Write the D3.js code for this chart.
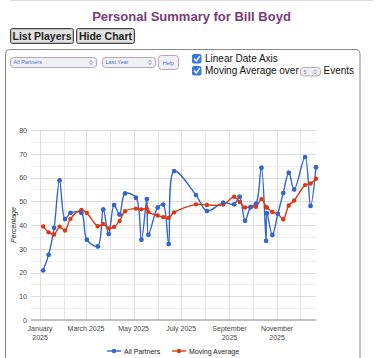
<!DOCTYPE html>
<html><head><meta charset="utf-8">
<script src="https://cdn.jsdelivr.net/npm/d3@7"></script>
<style>
html,body{margin:0;padding:0;background:#fff;}
svg{display:block;font-family:"Liberation Sans",Arial,sans-serif;}
</style></head>
<body>
<svg id="c" width="384" height="358"></svg>
<script>
// ---- data ----
const dates = ["2025-01-05","2025-01-12","2025-01-19","2025-01-26","2025-02-02","2025-02-09","2025-02-23","2025-03-02","2025-03-16","2025-03-23","2025-03-30","2025-04-06","2025-04-13","2025-04-20","2025-05-04","2025-05-11","2025-05-18","2025-05-20","2025-06-01","2025-06-08","2025-06-15","2025-06-22","2025-07-20","2025-08-03","2025-08-24","2025-09-07","2025-09-14","2025-09-21","2025-09-28","2025-10-05","2025-10-12","2025-10-18","2025-10-19","2025-10-26","2025-11-02","2025-11-09","2025-11-16","2025-11-23","2025-12-07","2025-12-14","2025-12-21"];
const allPartners = [20.9,27.5,38.8,58.8,42.5,45.1,45.1,33.8,31.0,46.5,36.2,48.4,44.4,53.3,51.5,33.8,51.0,35.9,47.4,48.6,32.0,62.7,52.6,45.9,49.4,48.7,51.9,41.8,47.5,49.0,64.1,33.4,45.0,35.8,44.7,53.5,62.0,55.0,68.6,48.0,64.3];
const movingAvg = [39.4,36.9,36.0,39.3,37.7,42.6,46.3,45.1,39.5,40.4,38.6,39.2,41.7,45.8,46.9,46.6,46.9,45.5,44.0,43.3,43.0,45.3,48.7,48.4,48.6,51.9,49.7,47.4,47.7,47.7,50.9,47.6,47.3,45.5,44.7,42.4,48.2,50.3,56.8,57.5,59.5];
const seriesNames = ["All Partners","Moving Average"];
const seriesColors = ["#3366cc","#dc3912"];
const yTicks = [0,10,20,30,40,50,60,70,80];
const yMinor = [5,15,25,35,45,55,65,75];
const xMajor = ["2025-01-01","2025-03-01","2025-05-01","2025-07-01","2025-09-01","2025-11-01"];
const xMinor = ["2025-02-01","2025-04-01","2025-06-01","2025-08-01","2025-10-01","2025-12-01"];
const xLabels = [["January","2025"],["March 2025"],["May 2025"],["July 2025"],["September","2025"],["November","2025"]];

const parse = d3.timeParse("%Y-%m-%d");
const svg = d3.select("#c");

// ---- page chrome ----
svg.append("line").attr("x1",10).attr("x2",373).attr("y1",0.5).attr("y2",0.5).attr("stroke","#ddd");
svg.append("text").attr("x",191.5).attr("y",21).attr("text-anchor","middle")
  .attr("font-size",13).attr("font-weight","bold").attr("fill","#7a3a7a").text("Personal Summary for Bill Boyd");

function button(x,w,label){
  svg.append("rect").attr("x",x+0.5).attr("y",28.5).attr("width",w).attr("height",15).attr("rx",2)
    .attr("fill","#e2e2e2").attr("stroke","#444");
  svg.append("rect").attr("x",x+1.5).attr("y",29.5).attr("width",w-2).attr("height",13).attr("rx",1.5)
    .attr("fill","none").attr("stroke","#bbb");
  svg.append("text").attr("x",x+0.5+w/2).attr("y",40).attr("text-anchor","middle")
    .attr("font-size",10.5).attr("font-weight","bold").attr("fill","#222").text(label);
}
button(10,63,"List Players");
button(76,58,"Hide Chart");

// box
svg.append("rect").attr("x",5.5).attr("y",49.5).attr("width",354.5).attr("height",330).attr("rx",4)
  .attr("fill","none").attr("stroke","#888");

function select(x,y,w,h,label,fs){
  svg.append("rect").attr("x",x+0.5).attr("y",y+0.5).attr("width",w).attr("height",h).attr("rx",3)
    .attr("fill","#f0eff2").attr("stroke","#b9a3bd");
  svg.append("text").attr("x",x+3.5).attr("y",y+h/2+2.3).attr("font-size",fs).attr("fill","#4a74d8").text(label);
  const cx=x+w-5, cy=y+h/2+0.5;
  svg.append("path").attr("d",`M${cx-1.5},${cy-0.6}L${cx},${cy-2}L${cx+1.5},${cy-0.6}M${cx-1.5},${cy+0.6}L${cx},${cy+2}L${cx+1.5},${cy+0.6}`)
    .attr("fill","none").attr("stroke","#5577cc").attr("stroke-width",0.7);
}
select(10,57,86,10,"All Partners",5.5);
select(102,57,53,10,"Last Year",5.5);
svg.append("rect").attr("x",158.5).attr("y",55.5).attr("width",20).attr("height",14).attr("rx",3)
  .attr("fill","#f0eff2").attr("stroke","#b9a3bd");
svg.append("text").attr("x",168.5).attr("y",64.5).attr("text-anchor","middle").attr("font-size",5.5).attr("fill","#4a74d8").text("Help");

function checkbox(y){
  svg.append("rect").attr("x",192).attr("y",y).attr("width",9.5).attr("height",9.5).attr("rx",2).attr("fill","#3a7be0");
  svg.append("path").attr("d",`M194.3,${y+4.9}L196.3,${y+7}L199.5,${y+2.6}`).attr("fill","none")
    .attr("stroke","#fff").attr("stroke-width",1.4).attr("stroke-linecap","round").attr("stroke-linejoin","round");
}
checkbox(54); checkbox(66);
svg.append("text").attr("x",205).attr("y",62).attr("font-size",10).attr("fill","#111").text("Linear Date Axis");
svg.append("text").attr("x",205).attr("y",74).attr("font-size",10).attr("fill","#111").text("Moving Average over");
select(300,67,20,8.5,"5",5);
svg.append("text").attr("x",323.5).attr("y",74).attr("font-size",10).attr("fill","#111").text("Events");

// ---- chart ----
const x = d3.scaleTime().domain([new Date(2024,11,20), new Date(2025,11,21)]).range([30.7,316]);
const y = d3.scaleLinear().domain([0,80]).range([320,130]);
const g = svg.append("g");

// gridlines
g.selectAll(".ym").data(yMinor).join("line").attr("x1",x.range()[0]).attr("x2",x.range()[1])
  .attr("y1",d=>Math.round(y(d))+0.5).attr("y2",d=>Math.round(y(d))+0.5).attr("stroke","#efefef");
g.selectAll(".yM").data(yTicks.slice(1)).join("line").attr("x1",x.range()[0]).attr("x2",x.range()[1])
  .attr("y1",d=>Math.round(y(d))+0.5).attr("y2",d=>Math.round(y(d))+0.5).attr("stroke","#dcdcdc");
g.selectAll(".xm").data(xMinor.map(parse)).join("line").attr("y1",130).attr("y2",320)
  .attr("x1",d=>Math.round(x(d))+0.5).attr("x2",d=>Math.round(x(d))+0.5).attr("stroke","#e4e4e4");
g.selectAll(".xM").data(xMajor.map(parse)).join("line").attr("y1",130).attr("y2",320)
  .attr("x1",d=>Math.round(x(d))+0.5).attr("x2",d=>Math.round(x(d))+0.5).attr("stroke","#dcdcdc");
// baseline
g.append("line").attr("x1",x.range()[0]).attr("x2",x.range()[1]).attr("y1",y(0)).attr("y2",y(0))
  .attr("stroke","#aaa").attr("stroke-width",1.3);

// y axis labels
const yAxis = d3.axisLeft(y).tickValues(yTicks).tickSize(0).tickPadding(0);
const ya = svg.append("g").attr("transform","translate(27,0)").call(yAxis);
ya.select(".domain").remove();
ya.selectAll("text").attr("font-size",7).attr("fill","#444").attr("font-family","Liberation Sans, Arial, sans-serif");

// x axis labels
const xa = svg.append("g");
xMajor.forEach((d,i)=>{
  const t = xa.append("text").attr("x",x(parse(d))).attr("y",331).attr("text-anchor","middle")
    .attr("font-size",7).attr("fill","#444");
  xLabels[i].forEach((s,j)=>t.append("tspan").attr("x",x(parse(d))).attr("dy",j?9.3:0).text(s));
});

svg.append("text").attr("transform","translate(15.5,225) rotate(-90)").attr("text-anchor","middle")
  .attr("font-size",7).attr("font-style","italic").attr("fill","#222").text("Percentage");

// series
const series = [allPartners, movingAvg];
const line = d3.line().x(d=>x(d[0])).y(d=>y(d[1])).curve(d3.curveCatmullRom.alpha(0.5));
series.forEach((vals,si)=>{
  const pts = dates.map((d,i)=>[parse(d),vals[i]]);
  g.append("path").attr("d",line(pts)).attr("fill","none").attr("stroke",seriesColors[si]).attr("stroke-width",1.4);
  g.selectAll(".p"+si).data(pts).join("circle").attr("cx",d=>x(d[0])).attr("cy",d=>y(d[1])).attr("r",2.2)
    .attr("fill",seriesColors[si]);
});
// draw blue points above red lines
g.selectAll(".p0top").data(dates.map((d,i)=>[parse(d),allPartners[i]])).join("circle")
  .attr("cx",d=>x(d[0])).attr("cy",d=>y(d[1])).attr("r",2.2).attr("fill",seriesColors[0]);

// legend
const lg = svg.append("g");
const legX = [107,172];
seriesNames.forEach((n,i)=>{
  lg.append("line").attr("x1",legX[i]).attr("x2",legX[i]+14).attr("y1",351).attr("y2",351)
    .attr("stroke",seriesColors[i]).attr("stroke-width",1.4);
  lg.append("circle").attr("cx",legX[i]+7).attr("cy",351).attr("r",2.2).attr("fill",seriesColors[i]);
  lg.append("text").attr("x",legX[i]+17).attr("y",353.5).attr("font-size",7).attr("fill","#222").text(n);
});
</script>
</body></html>
